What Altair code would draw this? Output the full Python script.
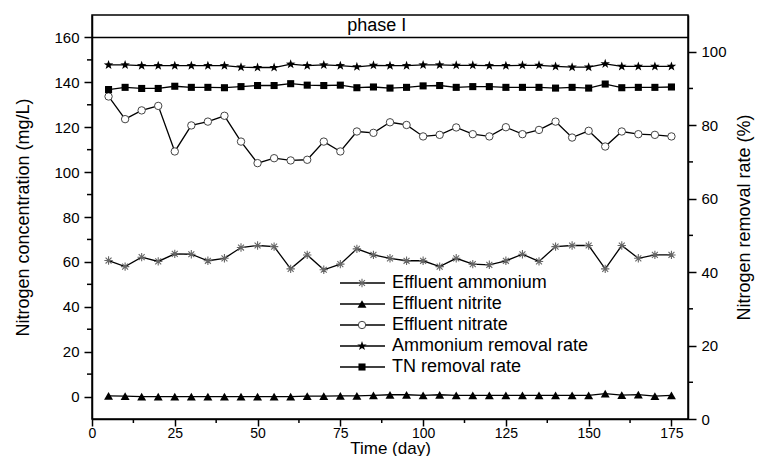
import altair as alt
import pandas as pd

# ---------------- data ----------------
days = [5, 10, 15, 20, 25, 30, 35, 40, 45, 50, 55, 60, 65, 70, 75, 80, 85, 90,
        95, 100, 105, 110, 115, 120, 125, 130, 135, 140, 145, 150, 155, 160,
        165, 170, 175]

effluent_ammonium = [60.6, 57.9, 62.1, 60.2, 63.6, 63.4, 60.5, 61.6, 66.4, 67.3,
                     66.8, 56.9, 63.1, 56.5, 59.0, 65.8, 63.1, 61.6, 60.5, 60.5,
                     57.9, 61.6, 59.0, 58.7, 60.5, 63.4, 60.2, 66.8, 67.3, 67.3,
                     56.9, 67.3, 61.6, 63.1, 63.1]

effluent_nitrite = [0.3, 0.2, 0.0, 0.0, 0.0, 0.0, 0.0, 0.0, 0.0, 0.0,
                    0.0, 0.0, 0.2, 0.2, 0.3, 0.3, 0.5, 0.8, 0.8, 0.5,
                    0.8, 0.5, 0.5, 0.5, 0.5, 0.5, 0.5, 0.5, 0.5, 0.5,
                    1.3, 0.6, 0.9, 0.2, 0.5]

effluent_nitrate = [133.7, 123.6, 127.5, 129.5, 109.2, 120.8, 122.5, 125.1, 113.6, 104.0,
                    106.2, 105.2, 105.5, 113.6, 109.2, 118.1, 117.5, 122.2, 121.0, 115.9,
                    116.6, 119.9, 116.9, 115.9, 120.0, 116.9, 118.8, 122.5, 115.4, 118.4,
                    111.4, 118.1, 116.9, 116.6, 115.9]

ammonium_removal = [96.4, 96.4, 96.2, 96.2, 96.2, 96.2, 96.2, 96.2, 95.8, 95.7,
                    95.7, 96.6, 96.2, 96.4, 96.2, 95.9, 96.3, 96.2, 96.2, 96.4,
                    96.4, 96.3, 96.3, 96.2, 96.2, 96.3, 96.3, 96.0, 95.8, 95.8,
                    96.7, 96.0, 96.0, 96.0, 96.0]

tn_removal = [89.7, 90.3, 90.0, 90.0, 90.6, 90.3, 90.3, 90.2, 90.5, 90.8,
              90.8, 91.3, 90.9, 90.8, 90.9, 90.2, 90.4, 90.1, 90.3, 90.7,
              90.8, 90.3, 90.5, 90.5, 90.3, 90.3, 90.3, 90.1, 90.3, 90.1,
              91.2, 90.2, 90.3, 90.3, 90.4]

legend_labels = ["Effluent ammonium", "Effluent nitrite", "Effluent nitrate",
                 "Ammonium removal rate", "TN removal rate"]

x_ticks = [0, 25, 50, 75, 100, 125, 150, 175]
x_minor = [12.5, 37.5, 62.5, 87.5, 112.5, 137.5, 162.5]
yl_ticks = [0, 20, 40, 60, 80, 100, 120, 140, 160]
yl_minor = [10, 30, 50, 70, 90, 110, 130, 150]
yr_ticks = [0, 20, 40, 60, 80, 100]
yr_minor = [10, 30, 50, 70, 90]

# ---------------- styling ----------------
FONT = "Liberation Sans"
W, H = 596, 404
STAR = ("M0,-1L0.235,-0.324L0.951,-0.309L0.380,0.124L0.588,0.809L0,0.4"
        "L-0.588,0.809L-0.380,0.124L-0.951,-0.309L-0.235,-0.324Z")
AST = "M-1,0L1,0M0,-1L0,1M-0.71,-0.71L0.71,0.71M-0.71,0.71L0.71,-0.71"

styles = {
    "amm": dict(shape=AST, size=70, filled=False, stroke="#666666", strokeWidth=1.1, opacity=1),
    "nit": dict(shape="triangle-up", size=80, filled=True, color="black", opacity=1),
    "nat": dict(shape="circle", size=55, filled=True, fill="white", stroke="#444444",
                strokeWidth=1, opacity=1),
    "ar": dict(shape=STAR, size=100, filled=True, color="black", opacity=1),
    "tn": dict(shape="square", size=50, filled=True, color="black", opacity=1),
}
legend_keys = ["amm", "nit", "nat", "ar", "tn"]

df = pd.DataFrame({"day": days, "amm": effluent_ammonium, "nit": effluent_nitrite,
                   "nat": effluent_nitrate, "ar": ammonium_removal, "tn": tn_removal})

xscale = alt.Scale(domain=[0, 180], nice=False, zero=False)
xaxis = alt.Axis(values=x_ticks, title="Time (day)", labelFlush=False, tickSize=7,
                 labelPadding=0, labelFontSize=14, titlePadding=0, titleFontSize=17)

yl_scale = alt.Scale(domain=[-10, 170], nice=False, zero=False)
yl_axis = alt.Axis(orient="left", values=yl_ticks, title="Nitrogen concentration (mg/L)",
                   tickSize=8, labelPadding=5, titlePadding=21)

yr_scale = alt.Scale(domain=[0, 110], nice=False, zero=False)
yr_axis = alt.Axis(orient="right", values=yr_ticks, title="Nitrogen removal rate (%)",
                   tickSize=8, labelPadding=5, titlePadding=27, titleAngle=270)


def X(f):
    return alt.X(f, type="quantitative", scale=xscale, axis=xaxis)


def YL(f):
    return alt.Y(f, type="quantitative", scale=yl_scale, axis=yl_axis)


def YR(f):
    return alt.Y(f, type="quantitative", scale=yr_scale, axis=yr_axis)


base = alt.Chart(df)


def series(field, Y):
    line = base.mark_line(color="black", strokeWidth=1.3).encode(x=X("day"), y=Y(field))
    pts = base.mark_point(**styles[field]).encode(x=X("day"), y=Y(field))
    return [line, pts]


one = pd.DataFrame({"a": [0]})

phase_rule = alt.Chart(one).mark_rule(color="black", strokeWidth=1.5).encode(
    y=alt.YDatum(160, scale=yl_scale, axis=yl_axis))
phase_text = alt.Chart(one).mark_text(text="phase I", font=FONT, fontSize=18,
                                      color="black", baseline="middle").encode(
    x=alt.XDatum(86, scale=xscale, axis=xaxis),
    y=alt.YDatum(165, scale=yl_scale, axis=yl_axis))

xminor = alt.Chart(pd.DataFrame({"v": x_minor})).mark_rule(
    color="black", strokeWidth=1.5).encode(x=X("v"), y=alt.value(H), y2=alt.value(H + 4))
ylminor = alt.Chart(pd.DataFrame({"v": yl_minor})).mark_rule(
    color="black", strokeWidth=1.5).encode(y=YL("v"), x=alt.value(-5), x2=alt.value(0))
yrminor = alt.Chart(pd.DataFrame({"v": yr_minor})).mark_rule(
    color="black", strokeWidth=1.5).encode(y=YR("v"), x=alt.value(W), x2=alt.value(W + 5))

left = alt.layer(
    phase_rule, phase_text, xminor, ylminor,
    *series("amm", YL), *series("nit", YL), *series("nat", YL),
)
right = alt.layer(yrminor, *series("ar", YR), *series("tn", YR))

# ---------------- legend ----------------
leg_df = pd.DataFrame({"label": legend_labels, "key": legend_keys})
LY = alt.Y("label:N", scale=alt.Scale(type="point", domain=legend_labels,
                                      range=[268, 352], padding=0), axis=None)
leg_layers = [alt.Chart(leg_df).mark_rule(color="black", strokeWidth=1.3).encode(
    x=alt.value(248), x2=alt.value(293), y=LY)]
for k in legend_keys:
    leg_layers.append(alt.Chart(leg_df).transform_filter(alt.datum.key == k)
                      .mark_point(**styles[k]).encode(x=alt.value(270), y=LY))
leg_layers.append(alt.Chart(leg_df).mark_text(align="left", baseline="middle", font=FONT,
                                              fontSize=18, color="black").encode(
    x=alt.value(300), y=LY, text="label:N"))
legend = alt.layer(*leg_layers)

chart = alt.layer(left, right, legend).resolve_scale(y="independent").properties(
    width=W, height=H,
    autosize=alt.AutoSizeParams(type="none"),
    padding={"left": 84, "top": 7, "right": 68, "bottom": 37},
).configure_axis(
    labelFont=FONT, titleFont=FONT, labelFontSize=15, titleFontSize=18,
    titleFontWeight="normal", labelColor="black", titleColor="black",
    domainColor="black", tickColor="black", domainWidth=1.5, tickWidth=1.5, grid=False,
).configure_view(stroke="black", strokeWidth=1.5)

chart.save("out.html", embed_options={"renderer": "svg", "actions": False})
